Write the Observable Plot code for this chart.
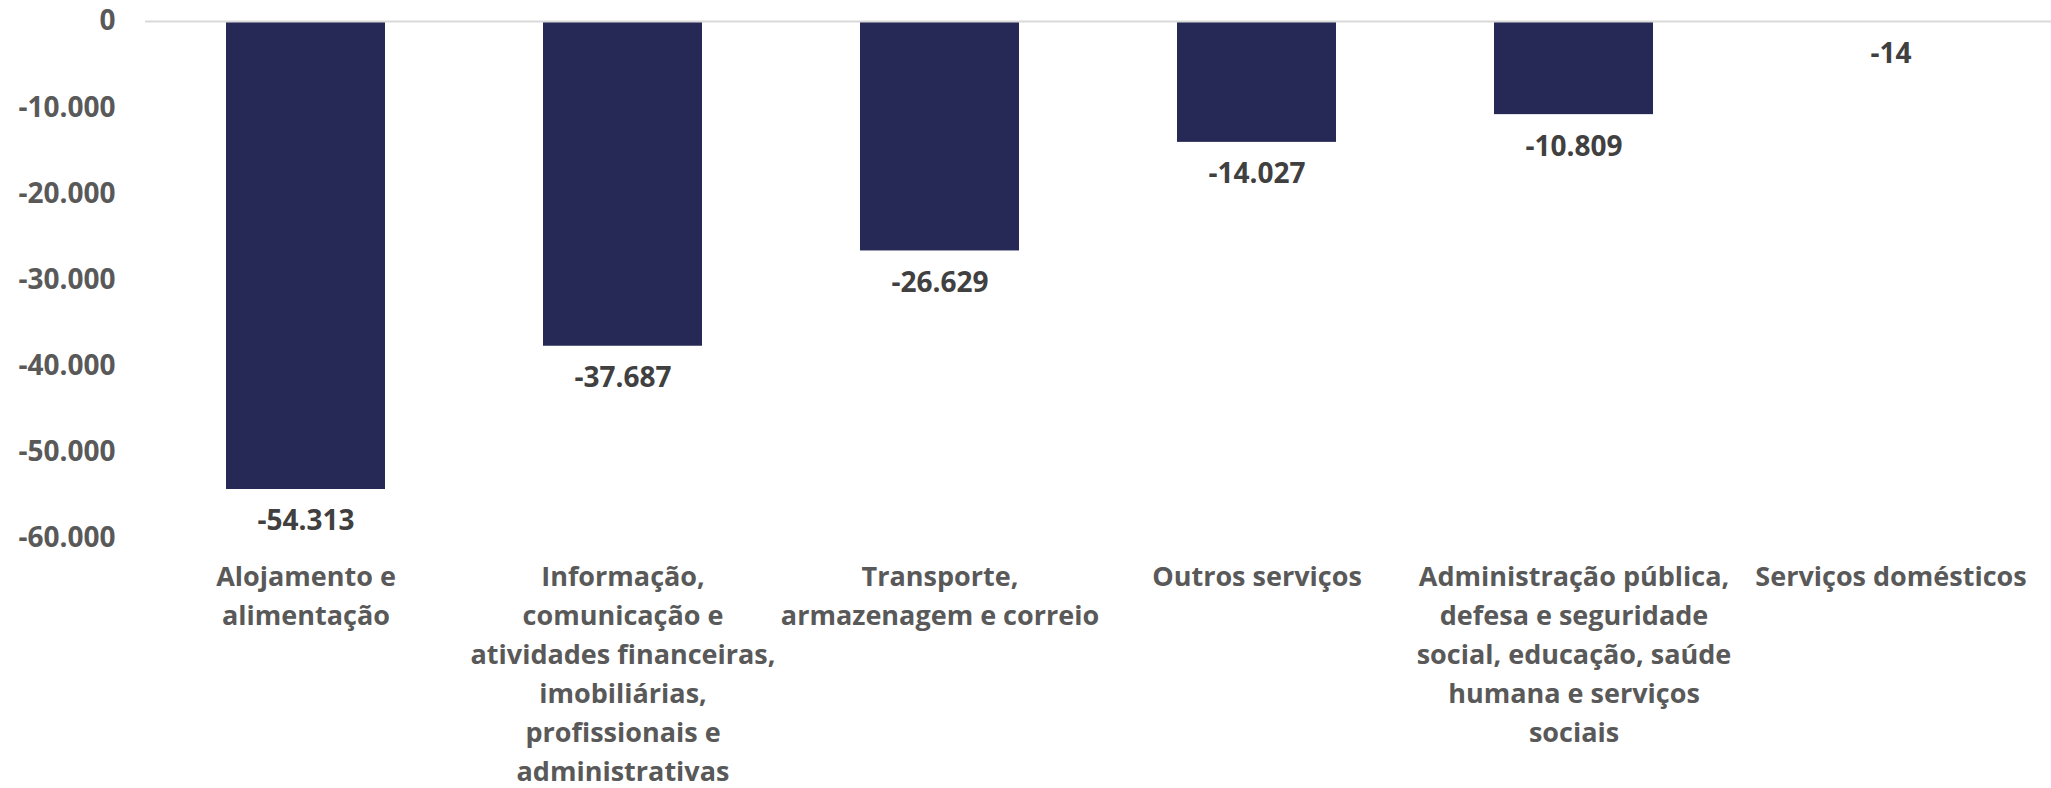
<!DOCTYPE html>
<html>
<head>
<meta charset="utf-8">
<script src="https://cdn.jsdelivr.net/npm/d3@7"></script>
<script src="https://cdn.jsdelivr.net/npm/@observablehq/plot@0.6"></script>
<style>
  html, body { margin: 0; padding: 0; background: #ffffff; }
  #chart svg { display: block; }
</style>
</head>
<body>
<div id="chart"></div>
<script>
const categories = [
  "Alojamento e alimentação",
  "Informação, comunicação e atividades financeiras, imobiliárias, profissionais e administrativas",
  "Transporte, armazenagem e correio",
  "Outros serviços",
  "Administração pública, defesa e seguridade social, educação, saúde humana e serviços sociais",
  "Serviços domésticos"
];
const values = [-54313, -37687, -26629, -14027, -10809, -14];
const tickLabels = [
  "Alojamento e\nalimentação",
  "Informação,\ncomunicação e\natividades financeiras,\nimobiliárias,\nprofissionais e\nadministrativas",
  "Transporte,\narmazenagem e correio",
  "Outros serviços",
  "Administração pública,\ndefesa e seguridade\nsocial, educação, saúde\nhumana e serviços\nsociais",
  "Serviços domésticos"
];
const yTicks = [0, -10000, -20000, -30000, -40000, -50000, -60000];

const data = categories.map((c, i) => ({category: c, value: values[i]}));
const labelOf = new Map(categories.map((c, i) => [c, tickLabels[i]]));

const ptBR = d3.formatLocale({decimal: ",", thousands: ".", grouping: [3], currency: ["R$", ""], minus: "-"});
const fmt = ptBR.format(",d");

const FONT = "'Open Sans', sans-serif";

const chart = Plot.plot({
  width: 2051,
  height: 788,
  marginTop: 21,
  marginBottom: 250,
  marginLeft: 145,
  marginRight: 0,
  style: {fontFamily: FONT, fontWeight: "bold", background: "#ffffff"},
  x: {domain: categories, paddingInner: 0.5, paddingOuter: 0.25, label: null},
  y: {domain: [-60000, 0], label: null},
  marks: [
    Plot.barY(data, {x: "category", y: "value", fill: "#262855"}),
    Plot.ruleY([0], {stroke: "#d9d9d9", strokeWidth: 2}),
    Plot.axisY({ticks: yTicks, tickSize: 0, tickPadding: 30, tickFormat: fmt,
      fontSize: 28, fill: "#595959", label: null}),
    Plot.axisX({tickSize: 0, tickPadding: 20, tickFormat: d => labelOf.get(d),
      fontSize: 27, lineHeight: 1.44, fill: "#595959", label: null}),
    Plot.text(data, {x: "category", y: "value", text: d => fmt(d.value), dy: 32,
      fontSize: 28, fill: "#404040"})
  ]
});
document.getElementById("chart").appendChild(chart);
</script>
</body>
</html>
